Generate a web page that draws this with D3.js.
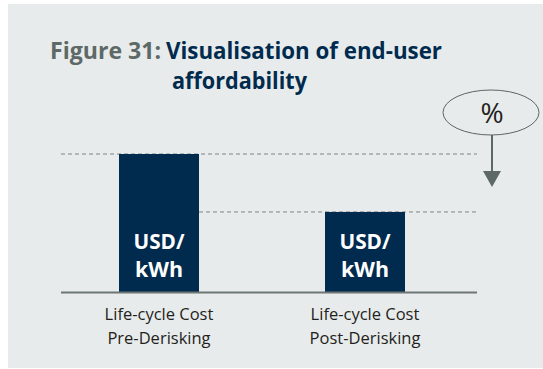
<!DOCTYPE html>
<html>
<head>
<meta charset="utf-8">
<script src="https://cdn.jsdelivr.net/npm/d3@7/dist/d3.min.js"></script>
<style>
  html, body { margin: 0; padding: 0; background: #ffffff; }
  svg { display: block; }
</style>
</head>
<body>
<svg id="chart" width="543" height="369"></svg>
<script>
// Life-cycle cost before and after derisking (relative index, pre = 100)
const categories = ["Pre-Derisking", "Post-Derisking"];
const costIndex = [100, 58];
const categoryLines = [["Life-cycle Cost", "Pre-Derisking"], ["Life-cycle Cost", "Post-Derisking"]];
const barLabel = ["USD/", "kWh"];
const changeLabel = "%";
const titlePrefix = "Figure 31:";
const titleLines = ["Visualisation of end-user", "affordability"];

const navy = "#002b4f";
const slate = "#5d6967";
const sans = "'Open Sans', Lato, sans-serif";

const svg = d3.select("#chart");

// panel background
svg.append("rect")
  .attr("x", 8).attr("y", 4).attr("width", 535).attr("height", 364)
  .attr("fill", "#e8ebeb");

// title
const title = svg.append("text")
  .attr("font-family", sans).attr("font-weight", 700).attr("font-size", 24);
title.append("tspan").attr("x", 50).attr("y", 59).attr("fill", slate)
  .attr("textLength", 111).attr("lengthAdjust", "spacingAndGlyphs")
  .text(titlePrefix);
title.append("tspan").attr("x", 166).attr("y", 59).attr("fill", navy)
  .attr("textLength", 276).attr("lengthAdjust", "spacingAndGlyphs")
  .text(titleLines[0]);
title.append("tspan").attr("x", 172).attr("y", 89).attr("fill", navy)
  .attr("textLength", 135).attr("lengthAdjust", "spacingAndGlyphs")
  .text(titleLines[1]);

// scales
const x = d3.scalePoint().domain(categories).range([159, 365]);
const y = d3.scaleLinear().domain([0, 100]).range([292, 154]);
const barW = 80;
const plotLeft = 61, plotRight = 477;

// dashed reference lines at each bar's top
svg.append("g").selectAll("line")
  .data(categories)
  .join("line")
  .attr("x1", (d, i) => i === 0 ? plotLeft : x(categories[i - 1]) + barW / 2)
  .attr("x2", plotRight)
  .attr("y1", (d, i) => y(costIndex[i]))
  .attr("y2", (d, i) => y(costIndex[i]))
  .attr("stroke", "#7d8584")
  .attr("stroke-width", 1)
  .attr("stroke-dasharray", "4,3");

// bars
svg.append("g").selectAll("rect")
  .data(categories)
  .join("rect")
  .attr("x", d => x(d) - barW / 2)
  .attr("width", barW)
  .attr("y", (d, i) => y(costIndex[i]))
  .attr("height", (d, i) => y(0) - y(costIndex[i]))
  .attr("fill", navy);

// unit labels inside bars
const unitG = svg.append("g")
  .attr("font-family", sans).attr("font-weight", 700).attr("font-size", 21)
  .attr("fill", "#ffffff").attr("text-anchor", "middle");
categories.forEach(c => {
  barLabel.forEach((t, j) => {
    unitG.append("text").attr("x", x(c)).attr("y", 249 + j * 28)
      .attr("textLength", j === 0 ? 51 : 48).attr("lengthAdjust", "spacingAndGlyphs")
      .text(t);
  });
});

// baseline
svg.append("line")
  .attr("x1", plotLeft).attr("x2", plotRight)
  .attr("y1", y(0) + 0.5).attr("y2", y(0) + 0.5)
  .attr("stroke", "#6d7675").attr("stroke-width", 2);

// category labels
const catG = svg.append("g")
  .attr("font-family", sans).attr("font-size", 16.5)
  .attr("fill", "#231f20").attr("text-anchor", "middle");
categories.forEach((c, i) => {
  categoryLines[i].forEach((t, j) => {
    catG.append("text").attr("x", x(c)).attr("y", 320 + j * 24).text(t);
  });
});

// change indicator: ellipse with % and downward arrow
const cx = 491, cy = 112.5;
svg.append("ellipse")
  .attr("cx", cx).attr("cy", cy).attr("rx", 48).attr("ry", 22.5)
  .attr("fill", "none").attr("stroke", "#5d6564").attr("stroke-width", 1);
svg.append("text")
  .attr("x", cx + 1).attr("y", 123)
  .attr("text-anchor", "middle")
  .attr("font-family", sans).attr("font-weight", 500).attr("font-size", 28).attr("fill", "#231f20")
  .text(changeLabel);
svg.append("line")
  .attr("x1", cx + 1).attr("x2", cx + 1)
  .attr("y1", cy + 22.5).attr("y2", 172)
  .attr("stroke", slate).attr("stroke-width", 2);
svg.append("path")
  .attr("d", `M${cx - 8},171 L${cx + 10},171 L${cx + 1},187 Z`)
  .attr("fill", slate);
</script>
</body>
</html>
